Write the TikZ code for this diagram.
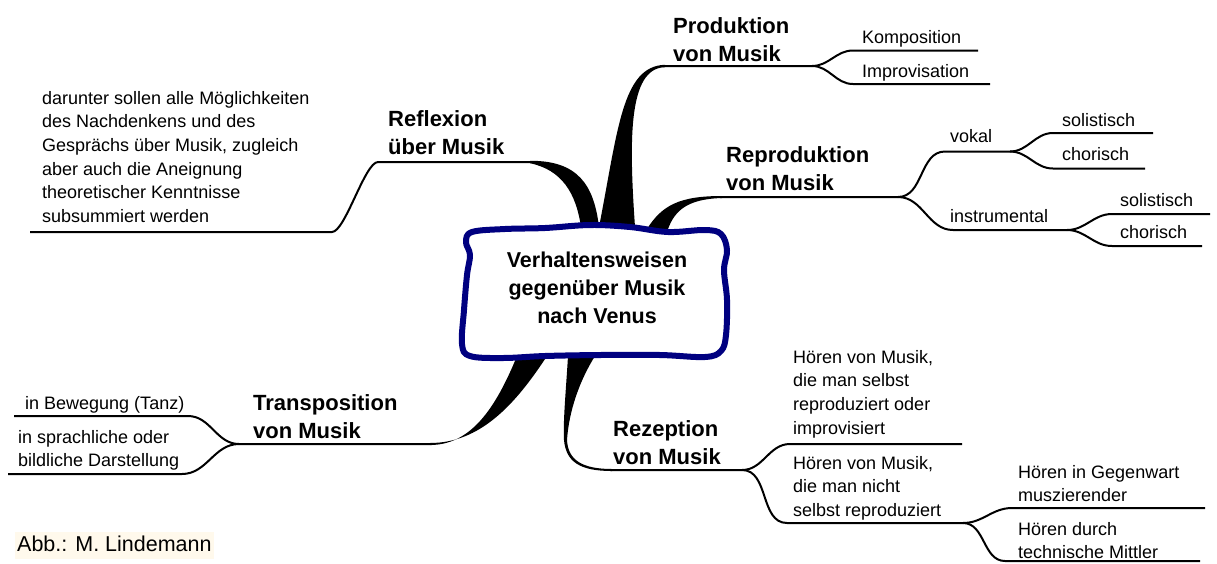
\documentclass[tikz,border=0pt]{standalone}
\usepackage{fontspec}
\setmainfont{Liberation Sans}
\definecolor{navy}{RGB}{0,0,128}
\definecolor{note}{RGB}{255,249,236}

\begin{document}
\begin{tikzpicture}[
    x=1pt, y=-1pt,
    line join=round,
    every node/.style={inner sep=0pt, anchor=base west, align=left},
    leaf/.style={font=\fontsize{18}{23.7}\selectfont},
    topic/.style={font=\fontsize{22}{28}\selectfont\bfseries},
    twig/.style={draw, line width=2pt},
    stem/.style={fill=black},
    cloud/.style={draw=navy, line width=6pt, fill=white}
  ]
  \useasboundingbox (0,0) rectangle (1217,563);

  % tapered stems from the centre
  \fill[stem] (599,227) .. controls (618,130) and (622,66) .. (665,64.8)
    -- (665,67.2) .. controls (628,68) and (629,140) .. (635,227) -- cycle;
  \fill[stem] (599,227) .. controls (594,185) and (578,160.5) .. (530,160.8)
    -- (530,163.2) .. controls (562,170) and (576,193) .. (581,227) -- cycle;
  \fill[stem] (647,229) .. controls (662,205) and (680,196) .. (722,196)
    -- (722,198) .. controls (688,199) and (675,210) .. (668,229) -- cycle;
  \fill[stem] (547,356) .. controls (515,405) and (480,443) .. (430,443)
    -- (430,445) .. controls (470,445) and (495,410) .. (517,356) -- cycle;
  \fill[stem] (568,356) .. controls (566,390) and (563,420) .. (564,440)
    .. controls (566,462) and (580,471) .. (612,471)
    -- (612,469) .. controls (582,469) and (568,460) .. (567,440)
    .. controls (569,410) and (580,380) .. (595,356) -- cycle;

  % centre
  \draw[cloud] plot[smooth cycle, tension=0.6] coordinates {
    (472,232) (505,229) (545,228) (590,225) (630,227) (668,232) (705,230)
    (721,234) (727,250) (724,270) (727,300) (726,335) (721,351) (705,357)
    (660,355) (600,355) (545,356) (503,358) (470,356) (462,344) (464,310)
    (467,275) (470,255) (466,242)};
  \node[font=\fontsize{21.5}{28}\selectfont\bfseries, align=center, anchor=base] (venus)
    at (597,323) {Verhaltensweisen\\gegenüber Musik\\nach Venus};

  % Produktion
  \coordinate (p0) at (662,66);
  \coordinate (p1) at (812,66);
  \coordinate (k0) at (853,50.5);
  \coordinate (k1) at (978,50.5);
  \coordinate (i0) at (853,84);
  \coordinate (i1) at (990,84);
  \draw[twig] (p0) -- (p1) to[out=0,in=180] (k0) -- (k1);
  \draw[twig] (p1) to[out=0,in=180] (i0) -- (i1);
  \node[topic] (prod) at (673,61) {Produktion\\von Musik};
  \node[leaf] (komp) at (862,43) {Komposition};
  \node[leaf] (impr) at (862,77) {Improvisation};

  % Reflexion
  \coordinate (r0) at (532,162);
  \coordinate (r1) at (378,162);
  \coordinate (r2) at (332,232);
  \coordinate (r3) at (30,232);
  \draw[twig] (r0) -- (r1) to[out=180,in=0,looseness=0.4] (r2) -- (r3);
  \node[topic] (refl) at (388,154) {Reflexion\\über Musik};
  \node[leaf] (reflnote) at (42,222.5) {darunter sollen alle Möglichkeiten\\des Nachdenkens und des\\Gesprächs über Musik, zugleich\\aber auch die Aneignung\\theoretischer Kenntnisse\\subsummiert werden};

  % Reproduktion
  \coordinate (q0) at (720,197);
  \coordinate (q1) at (898,197);
  \coordinate (v0) at (945,151.5);
  \coordinate (v1) at (1010,151.5);
  \coordinate (vs0) at (1053,133);
  \coordinate (vs1) at (1153,133);
  \coordinate (vc0) at (1053,168.5);
  \coordinate (vc1) at (1145,168.5);
  \coordinate (n0) at (953,230);
  \coordinate (n1) at (1067,230);
  \coordinate (ns0) at (1112,214);
  \coordinate (ns1) at (1210,214);
  \coordinate (nc0) at (1112,246);
  \coordinate (nc1) at (1202,246);
  \draw[twig] (q0) -- (q1) to[out=0,in=180] (v0) -- (v1) to[out=0,in=180] (vs0) -- (vs1);
  \draw[twig] (v1) to[out=0,in=180] (vc0) -- (vc1);
  \draw[twig] (q1) to[out=0,in=180] (n0) -- (n1) to[out=0,in=180] (ns0) -- (ns1);
  \draw[twig] (n1) to[out=0,in=180] (nc0) -- (nc1);
  \node[topic] (repr) at (726,190) {Reproduktion\\von Musik};
  \node[leaf] (vokal) at (950,142) {vokal};
  \node[leaf] (vsol) at (1062,126.5) {solistisch};
  \node[leaf] (vcho) at (1062,160) {chorisch};
  \node[leaf] (instr) at (950,222) {instrumental};
  \node[leaf] (isol) at (1120,206) {solistisch};
  \node[leaf] (icho) at (1120,238) {chorisch};

  % Transposition
  \coordinate (t0) at (432,444);
  \coordinate (t1) at (239,444);
  \coordinate (tb0) at (188,416);
  \coordinate (tb1) at (14,416);
  \coordinate (td0) at (182,474);
  \coordinate (td1) at (8,474);
  \draw[twig] (t0) -- (t1) to[out=180,in=0] (tb0) -- (tb1);
  \draw[twig] (t1) to[out=180,in=0] (td0) -- (td1);
  \node[topic] (trans) at (253,438) {Transposition\\von Musik};
  \node[leaf] (tanz) at (25,409) {in Bewegung (Tanz)};
  \node[leaf] (bild) at (18,466.7) {in sprachliche oder\\bildliche Darstellung};

  % Rezeption
  \coordinate (z0) at (610,470);
  \coordinate (z1) at (742,470);
  \coordinate (zs0) at (790,444);
  \coordinate (zs1) at (962,444);
  \coordinate (zn0) at (787,523);
  \coordinate (zn1) at (963,523);
  \coordinate (hg0) at (1012,508);
  \coordinate (hg1) at (1205,508);
  \coordinate (ht0) at (1005,561);
  \coordinate (ht1) at (1200,561);
  \draw[twig] (z0) -- (z1) to[out=0,in=180] (zs0) -- (zs1);
  \draw[twig] (z1) to[out=0,in=180] (zn0) -- (zn1) to[out=0,in=180] (hg0) -- (hg1);
  \draw[twig] (zn1) to[out=0,in=180] (ht0) -- (ht1);
  \node[topic] (rez) at (613,464) {Rezeption\\von Musik};
  \node[leaf] (selbst) at (793,434.1) {Hören von Musik,\\die man selbst\\reproduziert oder\\improvisiert};
  \node[leaf] (nicht) at (793,516.4) {Hören von Musik,\\die man nicht\\selbst reproduziert};
  \node[leaf] (gegenw) at (1018,501.7) {Hören in Gegenwart\\muszierender};
  \node[leaf] (techn) at (1018,558.7) {Hören durch\\technische Mittler};

  % credit
  \node[font=\fontsize{21.5}{26}\selectfont, fill=note, text height=16pt, text depth=4.5pt,
    inner xsep=2pt, inner ysep=3pt] (abb) at (15,551) {Abb.: M. Lindemann};
\end{tikzpicture}
\end{document}
